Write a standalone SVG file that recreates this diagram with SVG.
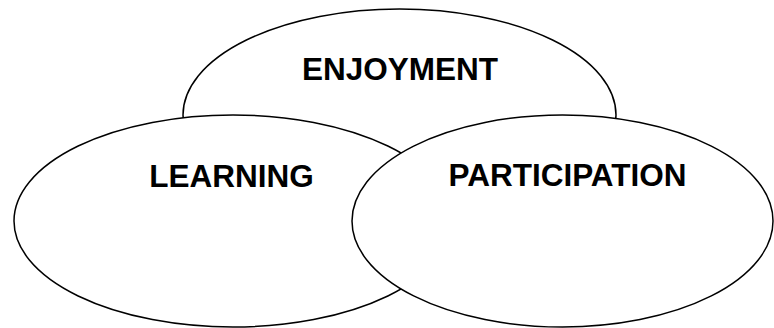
<svg xmlns="http://www.w3.org/2000/svg" width="774" height="328" viewBox="0 0 774 328">
<style>
.e{fill:#fff;stroke:#000;stroke-width:1.5}
.t{font-family:"Liberation Sans",Arial,sans-serif;font-weight:bold;font-size:31.5px;fill:#000;text-anchor:middle}
</style>
<rect width="774" height="328" fill="#fff"/>
<g id="enjoyment">
<ellipse class="e" cx="399.5" cy="115" rx="216.5" ry="106"/>
<text class="t" x="400" y="80">ENJOYMENT</text>
</g>
<g id="learning">
<ellipse class="e" cx="233" cy="221" rx="219" ry="106"/>
<text class="t" x="231.5" y="186.5">LEARNING</text>
</g>
<g id="participation">
<ellipse class="e" cx="562.5" cy="221" rx="210.5" ry="106"/>
<text class="t" x="567.5" y="186">PARTICIPATION</text>
</g>
<g id="connectors"/>
</svg>
